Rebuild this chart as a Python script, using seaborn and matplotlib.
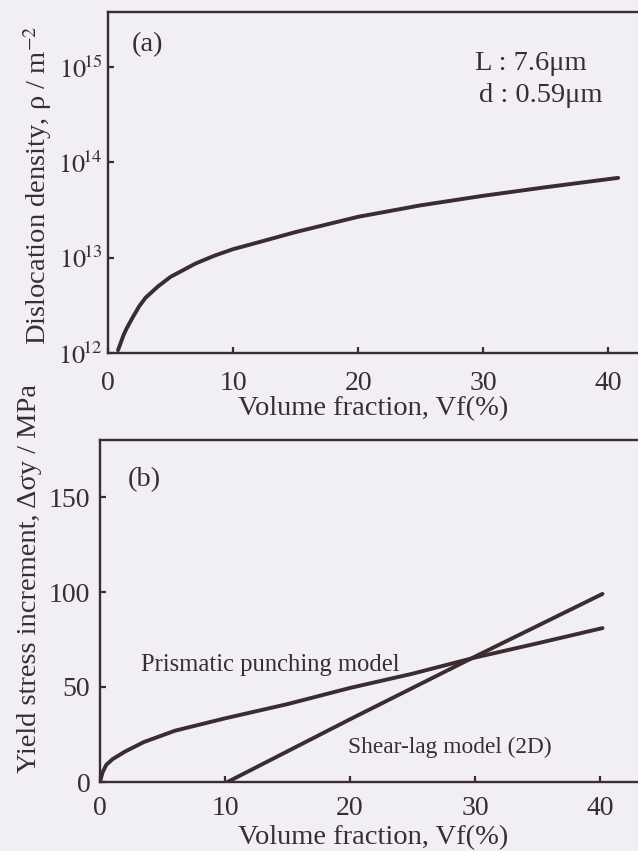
import matplotlib
matplotlib.use("Agg")
import matplotlib.pyplot as plt
import seaborn as sns
import pandas as pd

# ---- data ----
vf_a = [0.8, 1.0, 1.25, 1.5, 2.0, 2.5, 3.0, 4.0, 5.0, 6.0, 7.0, 8.5, 10.0, 12.5,
        15.0, 20.0, 25.0, 30.0, 35.0, 40.8]
rho_a = [1.07e12, 1.26e12, 1.55e12, 1.82e12, 2.4e12, 3.1e12, 3.8e12, 5.0e12, 6.3e12,
         7.4e12, 8.7e12, 1.05e13, 1.23e13, 1.51e13, 1.86e13, 2.69e13, 3.55e13,
         4.47e13, 5.5e13, 6.9e13]

vf_p = [0, 0.2, 0.5, 1, 2, 3.5, 6, 10, 15, 20, 25, 30, 35, 40.2]
dsig_p = [0, 5, 9, 12, 16, 21, 27, 33.5, 41, 49.5, 57, 65.5, 73, 81]

vf_s = [10.2, 20, 30, 40.2]
dsig_s = [0, 33, 66, 99]

xticks = [0, 10, 20, 30, 40]
yticks_a = [1e12, 1e13, 1e14, 1e15]
yticklabels_a = [r"$10^{\!12}$", r"$10^{\!13}$", r"$10^{\!14}$", r"$10^{\!15}$"]
yticks_b = [0, 50, 100, 150]

ink = "#3a2c30"
bg = "#f1eff3"

sns.set_theme(style="ticks")
plt.rcParams["font.family"] = ["Liberation Serif", "DejaVu Serif"]
plt.rcParams["mathtext.fontset"] = "stix"
plt.rcParams["text.color"] = ink
plt.rcParams["axes.labelcolor"] = ink
plt.rcParams["xtick.color"] = ink
plt.rcParams["ytick.color"] = ink

fs_lab = 20.5
fs_tick = 20
W, H = 638, 851
fig = plt.figure(figsize=(6.38, 8.51), dpi=100, facecolor=bg)

def fx(px):
    return px / W

def fy(py):
    return 1 - py / H

# panel (a): left spine at x=108, top y=12, bottom y=353
axa = fig.add_axes([fx(108), fy(353), fx(650 - 108), (353 - 12) / H])
# panel (b): left spine at x=100, top y=440, bottom y=782
axb = fig.add_axes([fx(100), fy(782), fx(650 - 100), (782 - 440) / H])

for ax in (axa, axb):
    ax.set_facecolor(bg)
    for s in ("left", "bottom", "top"):
        ax.spines[s].set_color(ink)
        ax.spines[s].set_linewidth(1.7)
    ax.spines["right"].set_visible(False)
    ax.tick_params(direction="in", length=4, width=1.6, labelsize=fs_tick,
                   top=False, right=False)

axa.tick_params(axis="x", pad=13)
axa.tick_params(axis="y", pad=4, labelsize=19)
axb.tick_params(axis="x", pad=10)
axb.tick_params(axis="y", pad=7)

dfa = pd.DataFrame({"vf": vf_a, "rho": rho_a})
sns.lineplot(data=dfa, x="vf", y="rho", ax=axa, color=ink, lw=2.8)
axa.set_yscale("log")
axa.set_ylim(1e12, 10**15.58)
axa.set_xlim(0, (650 - 106) / 12.55)
axa.set_xticks(xticks)
axa.set_xticklabels([str(t) for t in xticks])
axa.set_yticks(yticks_a)
axa.set_yticklabels(yticklabels_a)
axa.minorticks_off()
axa.set_xlabel("")
axa.set_ylabel("")

dfp = pd.DataFrame({"vf": vf_p, "dsig": dsig_p})
dfs = pd.DataFrame({"vf": vf_s, "dsig": dsig_s})
sns.lineplot(data=dfp, x="vf", y="dsig", ax=axb, color=ink, lw=2.8)
sns.lineplot(data=dfs, x="vf", y="dsig", ax=axb, color=ink, lw=2.8)
axb.set_xlim(0, (650 - 100) / 12.5)
axb.set_ylim(0, 180)
axb.set_xticks(xticks)
axb.set_yticks(yticks_b)
axb.set_xlabel("")
axb.set_ylabel("")
axb.text(3.3, 61.6, "Prismatic punching model", fontsize=17.7, va="center")
axb.text(19.8, 18, "Shear-lag model (2D)", fontsize=16.8, va="center")

# axis titles
fig.text(fx(238), fy(409), "Volume fraction, Vf(%)", fontsize=fs_lab, ha="left", va="center")
fig.text(fx(238), fy(838), "Volume fraction, Vf(%)", fontsize=fs_lab, ha="left", va="center")
fig.text(fx(38), fy(185), "Dislocation density, ρ / m$^{-2}$", fontsize=fs_lab,
         rotation=90, ha="center", va="center")
fig.text(fx(30), fy(773), "Yield stress increment, Δσy / MPa", fontsize=fs_lab,
         rotation=90, ha="center", va="bottom")

# panel annotations
fig.text(fx(132), fy(45), "(a)", fontsize=fs_lab, ha="left", va="center")
fig.text(fx(475), fy(63), "L : 7.6μm", fontsize=fs_lab, ha="left", va="center")
fig.text(fx(479), fy(95), "d : 0.59μm", fontsize=fs_lab, ha="left", va="center")
fig.text(fx(128), fy(480), "(b)", fontsize=fs_lab, ha="left", va="center")

fig.savefig("out.png", dpi=100, facecolor=bg)
